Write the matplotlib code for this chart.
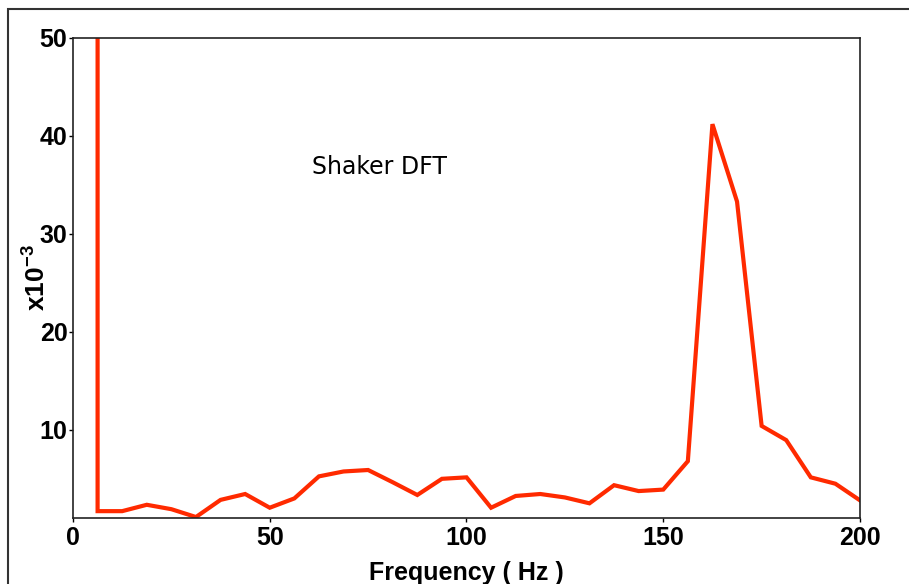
import matplotlib
matplotlib.use("Agg")
import matplotlib.pyplot as plt
from matplotlib.patches import Rectangle

# DFT bins of the shaker signal (Hz) and magnitude (x10^-3)
freq = [6.25, 6.25, 12.5, 18.75, 25.0, 31.25, 37.5, 43.75, 50.0, 56.25,
        62.5, 68.75, 75.0, 81.25, 87.5, 93.75, 100.0, 106.25, 112.5, 118.75,
        125.0, 131.25, 137.5, 143.75, 150.0, 156.25, 162.5, 168.75, 175.0,
        181.25, 187.5, 193.75, 200.0]
amp = [60.0, 1.7, 1.7, 2.35, 1.9, 1.1, 2.85, 3.45, 2.05, 3.0,
       5.25, 5.75, 5.9, 4.65, 3.35, 5.0, 5.15, 2.05, 3.25, 3.45,
       3.1, 2.5, 4.35, 3.75, 3.9, 6.8, 41.2, 33.3, 10.4,
       8.95, 5.15, 4.5, 2.8]

xticks = [0, 50, 100, 150, 200]
yticks = [10, 20, 30, 40, 50]

plt.rcParams['font.family'] = ['Liberation Sans', 'DejaVu Sans']
plt.rcParams['mathtext.fontset'] = 'custom'
plt.rcParams['mathtext.rm'] = 'Liberation Sans:bold'
plt.rcParams['mathtext.bf'] = 'Liberation Sans:bold'

fig = plt.figure(figsize=(9.09, 5.84), dpi=100)
ax = fig.add_axes([0.0803, 0.113, 0.8658, 0.822])

ax.plot(freq, amp, color="#ff2a00", linewidth=3.0, solid_joinstyle='miter')

ax.set_xlim(0, 200)
ax.set_ylim(1.0, 50)
ax.set_xticks(xticks)
ax.set_yticks(yticks)
ax.tick_params(axis='both', direction='out', length=3, width=1, labelsize=18)
ax.tick_params(axis='x', pad=3)
ax.tick_params(axis='y', pad=1)
for lbl in ax.get_xticklabels() + ax.get_yticklabels():
    lbl.set_fontweight('bold')
for s in ax.spines.values():
    s.set_linewidth(1.2)
    s.set_color('#222222')

ax.set_xlabel("Frequency ( Hz )", fontsize=18, fontweight='bold')
ax.xaxis.set_label_coords(0.5, -0.09)
ax.set_ylabel(r"$\mathbf{x10^{-3}}$", fontsize=19)
ax.yaxis.set_label_coords(-0.028, 0.5)

ax.text(0.39, 0.731, "Shaker DFT", transform=ax.transAxes, fontsize=17,
        family='DejaVu Sans', ha='center', va='center')

# outer frame, cut off at the right and bottom edges
fig.patches.append(Rectangle((8 / 909, -0.2), 1.2, 1.2 - 9 / 584, transform=fig.transFigure,
                             fill=False, edgecolor='#333333', linewidth=1.5, clip_on=False))

fig.savefig("out.png", dpi=100)
